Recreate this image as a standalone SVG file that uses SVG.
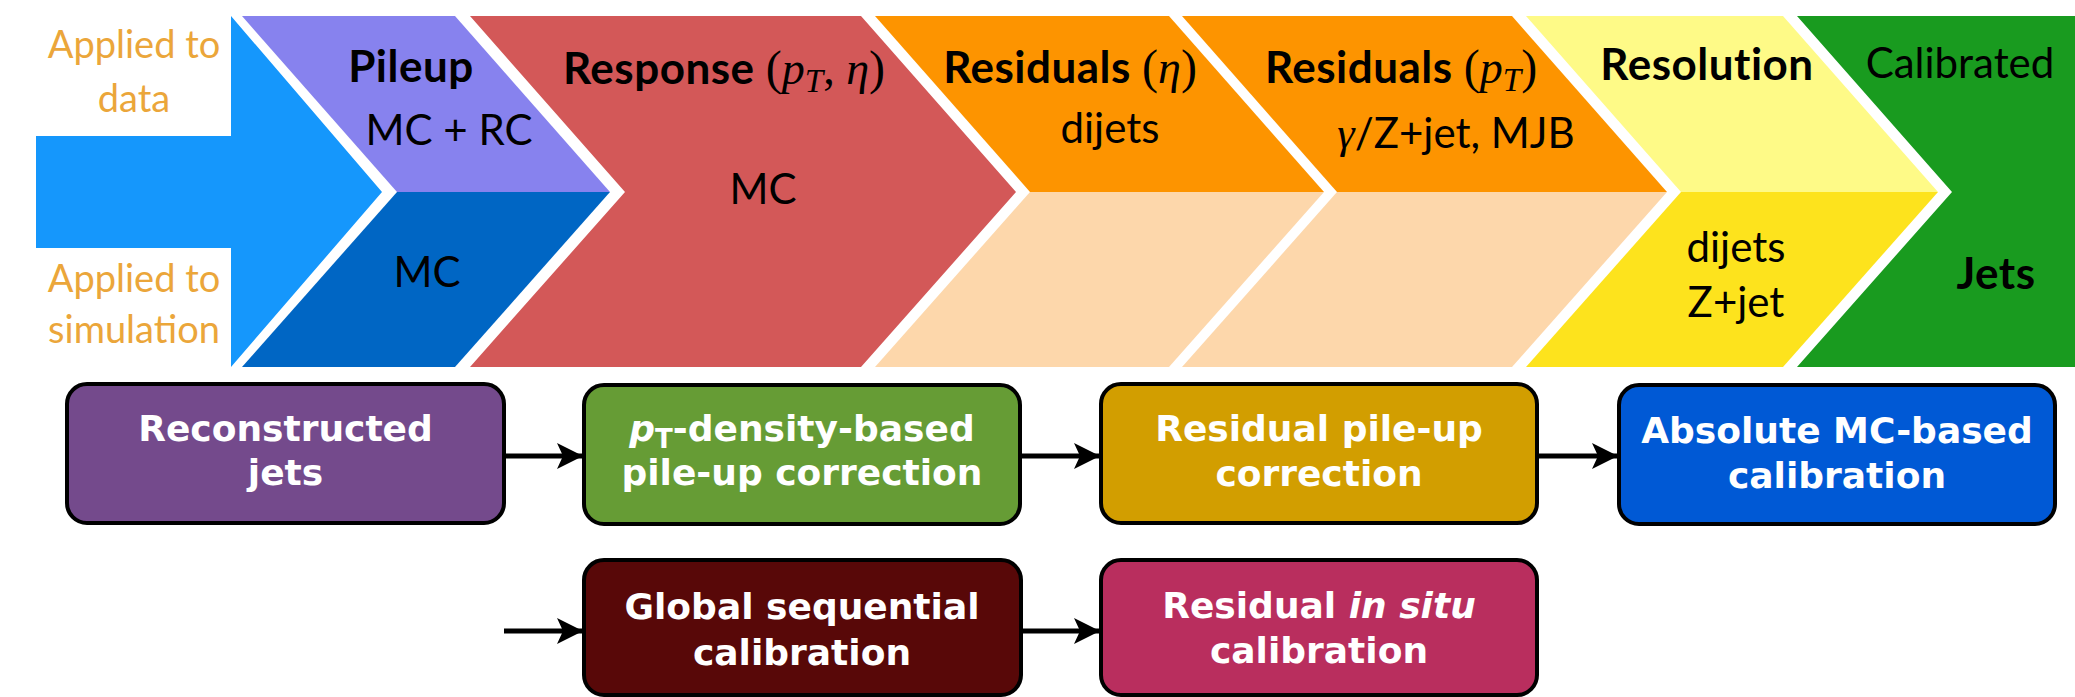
<svg xmlns="http://www.w3.org/2000/svg" width="2075" height="697" viewBox="0 0 2075 697">
<style>
.lbl{font-family:Lato,"DejaVu Sans",sans-serif;fill:#000;text-anchor:middle}
.r{font-size:42px}
.b{font-size:44px;font-weight:bold;letter-spacing:0.5px}
.org{font-family:Lato,"DejaVu Sans",sans-serif;font-size:38px;fill:#eba63a;text-anchor:middle}
.m{font-family:"Liberation Serif",serif;font-style:normal;font-weight:normal;letter-spacing:0}
.mi{font-family:"Liberation Serif",serif;font-style:italic;font-weight:normal;letter-spacing:0}
.box{stroke:#000;stroke-width:4}
.bt{font-family:"DejaVu Sans",sans-serif;font-size:36px;font-weight:bold;fill:#fff;text-anchor:middle}
.con{stroke:#000;stroke-width:5;fill:none;marker-end:url(#ah)}
</style>
<defs>
<marker id="ah" markerUnits="userSpaceOnUse" markerWidth="28" markerHeight="28" refX="26" refY="13" orient="auto">
<path d="M0,0 L26,13 L0,26 L6,13 Z" fill="#000"/>
</marker>
</defs>
<rect width="2075" height="697" fill="#fff"/>

<g id="input-arrow">
<polygon points="36,136 231,136 231,16 382,192 231,367 231,248 36,248" fill="#1597fc"/>
<text class="org" x="134" y="58">Applied to</text>
<text class="org" x="134" y="112">data</text>
<text class="org" x="134" y="292">Applied to</text>
<text class="org" x="134" y="343">simulation</text>
</g>

<g id="pileup">
<polygon points="242,16 455,16 610,192 397,192" fill="#8782ee"/>
<polygon points="397,192 610,192 455,367 242,367" fill="#0066c4"/>
<text class="lbl b" x="411" y="82">Pileup</text>
<text class="lbl r" x="449" y="145">MC + RC</text>
<text class="lbl r" x="427" y="287">MC</text>
</g>

<g id="response">
<polygon points="470,16 861,16 1016,192 861,367 470,367 625,192" fill="#d35858"/>
<text class="lbl b" x="724" y="84">Response <tspan class="m" font-size="48">(</tspan><tspan class="mi" font-size="46">p</tspan><tspan class="mi" font-size="33" dy="8">T</tspan><tspan class="m" font-size="46" dy="-8">, </tspan><tspan class="mi" font-size="46">η</tspan><tspan class="m" font-size="48">)</tspan></text>
<text class="lbl r" x="763" y="204">MC</text>
</g>

<g id="residuals-eta">
<polygon points="875,16 1169,16 1324,192 1030,192" fill="#fd9400"/>
<polygon points="1030,192 1324,192 1169,367 875,367" fill="#fdd7ab"/>
<text class="lbl b" x="1070" y="83">Residuals <tspan class="m" font-size="48">(</tspan><tspan class="mi" font-size="46">η</tspan><tspan class="m" font-size="48">)</tspan></text>
<text class="lbl r" x="1110" y="143">dijets</text>
</g>

<g id="residuals-pt">
<polygon points="1182,16 1512,16 1667,192 1337,192" fill="#fd9400"/>
<polygon points="1337,192 1667,192 1512,367 1182,367" fill="#fdd7ab"/>
<text class="lbl b" x="1401" y="83">Residuals <tspan class="m" font-size="48">(</tspan><tspan class="mi" font-size="46">p</tspan><tspan class="mi" font-size="33" dy="8">T</tspan><tspan class="m" font-size="48" dy="-8">)</tspan></text>
<text class="lbl r" x="1456" y="148"><tspan class="mi" font-size="44">γ</tspan>/Z+jet, MJB</text>
</g>

<g id="resolution">
<polygon points="1526,16 1783,16 1938,192 1681,192" fill="#fefa87"/>
<polygon points="1681,192 1938,192 1783,367 1526,367" fill="#fde31d"/>
<text class="lbl b" x="1707" y="80">Resolution</text>
<text class="lbl r" x="1736" y="262">dijets</text>
<text class="lbl r" x="1736" y="317">Z+jet</text>
</g>

<g id="calibrated-jets">
<polygon points="1797,16 2075,16 2075,367 1797,367 1952,192" fill="#199b1f"/>
<text class="lbl r" x="1960" y="78">Calibrated</text>
<text class="lbl b" x="1996" y="289">Jets</text>
</g>

<g id="connectors">
<line class="con" x1="504" y1="456" x2="583" y2="456"/>
<line class="con" x1="1020" y1="456" x2="1100" y2="456"/>
<line class="con" x1="1537" y1="456" x2="1618" y2="456"/>
<line class="con" x1="504" y1="631" x2="583" y2="631"/>
<line class="con" x1="1021" y1="631" x2="1100" y2="631"/>
</g>

<g id="reconstructed-jets">
<rect class="box" x="67" y="384" width="437" height="139" rx="20" fill="#744a8c"/>
<text class="bt" x="285.5" y="441">Reconstructed</text>
<text class="bt" x="285.5" y="485">jets</text>
</g>

<g id="pt-density">
<rect class="box" x="584" y="385" width="436" height="139" rx="20" fill="#669c35"/>
<text class="bt" x="802" y="441"><tspan font-style="italic">p</tspan><tspan font-size="26" dy="7">T</tspan><tspan dy="-7">-density-based</tspan></text>
<text class="bt" x="802" y="485">pile-up correction</text>
</g>

<g id="residual-pileup">
<rect class="box" x="1101" y="384" width="436" height="139" rx="20" fill="#d29e00"/>
<text class="bt" x="1319" y="441">Residual pile-up</text>
<text class="bt" x="1319" y="486">correction</text>
</g>

<g id="absolute-mc">
<rect class="box" x="1619" y="385" width="436" height="139" rx="20" fill="#0059d5"/>
<text class="bt" x="1837" y="443">Absolute MC-based</text>
<text class="bt" x="1837" y="488">calibration</text>
</g>

<g id="global-sequential">
<rect class="box" x="584" y="560" width="437" height="135" rx="20" fill="#580808"/>
<text class="bt" x="802" y="619">Global sequential</text>
<text class="bt" x="802" y="665">calibration</text>
</g>

<g id="residual-insitu">
<rect class="box" x="1101" y="560" width="436" height="135" rx="20" fill="#b92e5e"/>
<text class="bt" x="1319" y="618">Residual <tspan font-style="italic">in situ</tspan></text>
<text class="bt" x="1319" y="663">calibration</text>
</g>
</svg>
